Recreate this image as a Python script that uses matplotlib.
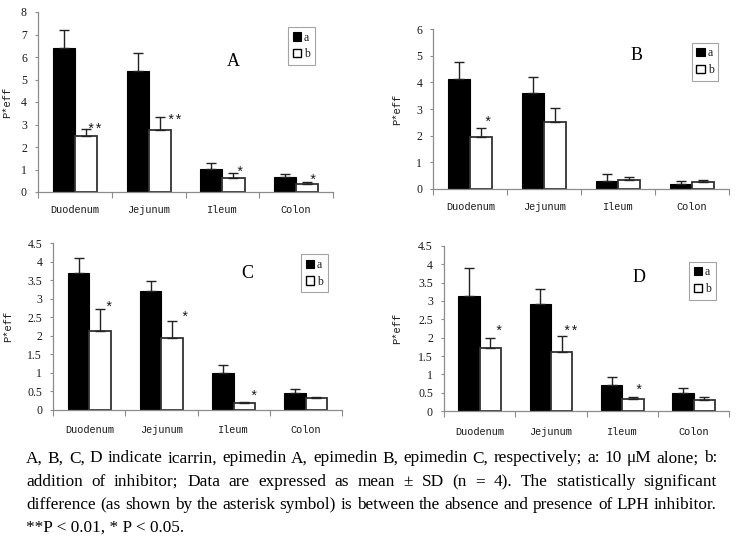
import matplotlib
matplotlib.use("Agg")
import matplotlib.pyplot as plt
from matplotlib.patches import Patch
from matplotlib.ticker import MultipleLocator, FuncFormatter, FixedLocator, NullFormatter
import numpy as np

# ---------------- data ----------------
categories = ["Duodenum", "Jejunum", "Ileum", "Colon"]
series_names = ["a", "b"]

A_a = [6.42, 5.39, 1.02, 0.65]
A_a_sd = [0.77, 0.81, 0.25, 0.15]
A_b = [2.51, 2.75, 0.63, 0.35]
A_b_sd = [0.28, 0.57, 0.20, 0.09]
A_stars = ["**", "**", "*", "*"]

B_a = [4.14, 3.61, 0.30, 0.16]
B_a_sd = [0.64, 0.59, 0.25, 0.13]
B_b = [1.93, 2.52, 0.34, 0.26]
B_b_sd = [0.35, 0.53, 0.11, 0.08]
B_stars = ["*", "", "", ""]

C_a = [3.69, 3.20, 1.00, 0.45]
C_a_sd = [0.42, 0.27, 0.22, 0.11]
C_b = [2.13, 1.94, 0.18, 0.32]
C_b_sd = [0.59, 0.45, 0.03, 0.03]
C_stars = ["*", "*", "*", ""]

D_a = [3.14, 2.91, 0.72, 0.49]
D_a_sd = [0.75, 0.42, 0.20, 0.13]
D_b = [1.71, 1.62, 0.34, 0.30]
D_b_sd = [0.29, 0.43, 0.05, 0.09]
D_stars = ["*", "**", "*", ""]

panel_letters = ["A", "B", "C", "D"]
y_max = [8, 6, 4.5, 4.5]
y_step = [1, 1, 0.5, 0.5]
ylabel_text = "P*eff"

caption_lines = [
    "A, B, C, D indicate icarrin, epimedin A, epimedin B, epimedin C, respectively; a: 10 \u03bcM alone; b:",
    "addition of inhibitor; Data are expressed as mean \u00b1 SD (n = 4). The statistically significant",
    "difference (as shown by the asterisk symbol) is between the absence and presence of LPH inhibitor.",
    "**P < 0.01, * P < 0.05.",
]

# ---------------- layout (pixels) ----------------
W, H = 741, 541
fig = plt.figure(figsize=(W / 100, H / 100), dpi=100)
fig.patch.set_facecolor("white")

MONO = "Liberation Mono"
SERIF = "Liberation Serif"

panels = [
    dict(data=(A_a, A_a_sd, A_b, A_b_sd, A_stars), box=(38, 12, 333, 192), ylab_x=12,
         letter_xy=(233, 61), leg_xy=(288, 27), xpad=9.5,
         star_off=[(1.5, 3), (8, 1), (3, 5), (2, 5)]),
    dict(data=(B_a, B_a_sd, B_b, B_b_sd, B_stars), box=(433.3, 29.3, 729, 188.7), ylab_x=401.7,
         letter_xy=(637, 55), leg_xy=(691.7, 42.7), xpad=9.5,
         star_off=[(3, 9), (0, 0), (0, 0), (0, 0)]),
    dict(data=(C_a, C_a_sd, C_b, C_b_sd, C_stars), box=(53.3, 243.3, 341.7, 410), ylab_x=13.3,
         letter_xy=(247, 273), leg_xy=(301, 254.3), xpad=11,
         star_off=[(5.5, 5), (9.5, 7.5), (6, 9.5), (0, 0)]),
    dict(data=(D_a, D_a_sd, D_b, D_b_sd, D_stars), box=(444, 245.7, 729.3, 411.3), ylab_x=401.7,
         letter_xy=(639, 277), leg_xy=(689, 261.7), xpad=11,
         star_off=[(5, 10), (1.5, 8.5), (2.5, 10), (0, 0)]),
]

bar_w = 0.3
axis_gray = "#8c8c8c"
text_col = "#1a1a1a"

for k, p in enumerate(panels):
    l, t, r, b = p["box"]
    ax = fig.add_axes([l / W, 1 - b / H, (r - l) / W, (b - t) / H])
    va, vsa, vb, vsb, stars = p["data"]
    x = np.arange(len(categories))
    ax.bar(x - bar_w / 2, va, bar_w, color="black", edgecolor="black", linewidth=0.8, zorder=2)
    ax.bar(x + bar_w / 2, vb, bar_w, color="white", edgecolor="#333333", linewidth=1.3, zorder=2)
    ax.errorbar(x - bar_w / 2, va, yerr=[np.zeros(len(va)), vsa], fmt="none",
                ecolor="#222222", elinewidth=1.0, capsize=3.5, capthick=1.0, zorder=3)
    ax.errorbar(x + bar_w / 2, vb, yerr=[np.zeros(len(vb)), vsb], fmt="none",
                ecolor="#222222", elinewidth=1.0, capsize=3.5, capthick=1.0, zorder=3)
    for i, s in enumerate(stars):
        if s:
            dx, dy = p["star_off"][i]
            ax.annotate(s, xy=(x[i] + bar_w / 2, vb[i] + vsb[i]), xytext=(dx - 1, dy - 4),
                        textcoords="offset pixels", ha="left", va="center",
                        fontsize=10, family=MONO, color=text_col, zorder=4)

    ax.set_xlim(-0.5, len(categories) - 0.5)
    ax.set_ylim(0, y_max[k])
    ax.yaxis.set_major_locator(MultipleLocator(y_step[k]))
    ax.yaxis.set_major_formatter(FuncFormatter(lambda v, pos: f"{v:g}"))
    ax.set_xticks(x)
    ax.set_xticklabels(categories, family=MONO, fontsize=7.4, color=text_col)
    ax.xaxis.set_minor_locator(FixedLocator(np.arange(-0.5, len(categories), 1.0)))
    ax.xaxis.set_minor_formatter(NullFormatter())
    ax.tick_params(axis="x", which="major", length=0, pad=p["xpad"])
    ax.tick_params(axis="x", which="minor", length=4, width=0.8, color=axis_gray, direction="out")
    ax.tick_params(axis="y", length=2.5, width=0.8, color=axis_gray, direction="out",
                   pad=5.5, labelsize=8.5, labelcolor=text_col)
    for lab in ax.get_yticklabels():
        lab.set_family(SERIF)
    for side in ("top", "right"):
        ax.spines[side].set_visible(False)
    for side in ("left", "bottom"):
        ax.spines[side].set_color(axis_gray)
        ax.spines[side].set_linewidth(0.9)

    ax.set_ylabel(ylabel_text, family=MONO, fontsize=7.6, color=text_col)
    ax.yaxis.set_label_coords((p["ylab_x"] - l) / (r - l), 0.5)

    lx, ly = p["letter_xy"]
    fig.text(lx / W, 1 - ly / H, panel_letters[k], family=SERIF, fontsize=13,
             ha="center", va="center", color="black")

    handles = [Patch(facecolor="black", edgecolor="black", linewidth=0.8),
               Patch(facecolor="white", edgecolor="black", linewidth=1.0)]
    gx, gy = p["leg_xy"]
    leg = ax.legend(handles, series_names, loc="upper left",
                    bbox_to_anchor=(gx / W, 1 - gy / H), bbox_transform=fig.transFigure,
                    prop={"family": SERIF, "size": 8.5}, handlelength=0.7, handleheight=0.7,
                    handletextpad=0.25, borderpad=0.4, labelspacing=0.4, borderaxespad=0,
                    fancybox=False, frameon=True)
    leg.get_frame().set_edgecolor(axis_gray)
    leg.get_frame().set_linewidth(0.8)
    for txt in leg.get_texts():
        txt.set_color(text_col)

# ---------------- caption (justified) ----------------
renderer = fig.canvas.get_renderer()
cap_left, cap_right = 26, 717
baselines = [462.5, 486, 509, 532]

# choose the font size so that the tightest line (line 3) fills the measure naturally
probe = fig.text(0, 0, caption_lines[2], family=SERIF, fontsize=10)
natural = probe.get_window_extent(renderer).width
probe.remove()
cap_size = 10 * (cap_right - cap_left) / natural * 0.995

for li, line in enumerate(caption_lines):
    words = line.split(" ")
    y = 1 - baselines[li] / H
    if li == len(caption_lines) - 1:
        fig.text(cap_left / W, y, line, family=SERIF, fontsize=cap_size, ha="left", va="baseline")
        continue
    texts = [fig.text(0, y, w, family=SERIF, fontsize=cap_size, ha="left", va="baseline") for w in words]
    widths = [t.get_window_extent(renderer).width for t in texts]
    gap = ((cap_right - cap_left) - sum(widths)) / (len(words) - 1)
    xpos = cap_left
    for t, wdt in zip(texts, widths):
        t.set_x(xpos / W)
        xpos += wdt + gap

fig.savefig("out.png", dpi=100, facecolor="white")
